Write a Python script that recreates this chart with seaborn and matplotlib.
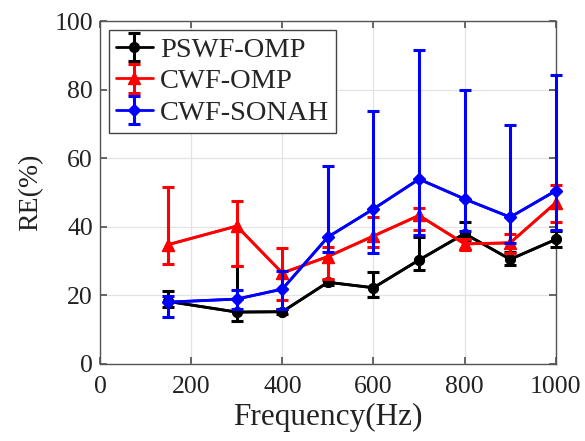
import numpy as np
import pandas as pd
import matplotlib
matplotlib.use("Agg")
import matplotlib.pyplot as plt
import seaborn as sns

freq = [150, 300, 400, 500, 600, 700, 800, 900, 1000]

pswf_mean = [18.2, 15.1, 15.2, 23.8, 22.2, 30.3, 38.0, 30.5, 36.3]
pswf_upper = [21.2, 28.6, 16.0, 24.6, 26.7, 36.9, 41.4, 32.5, 38.8]
pswf_lower = [16.6, 12.6, 14.5, 23.0, 19.4, 27.4, 36.0, 28.9, 34.0]

cwf_mean = [34.8, 40.2, 26.5, 31.3, 37.3, 43.3, 35.0, 35.3, 47.0]
cwf_upper = [51.5, 47.5, 33.9, 34.0, 42.9, 45.4, 36.5, 37.8, 52.2]
cwf_lower = [29.1, 28.6, 18.5, 24.7, 34.2, 39.2, 33.3, 32.3, 41.3]

sonah_mean = [18.0, 18.9, 21.8, 37.0, 45.2, 53.9, 48.1, 42.8, 50.5]
sonah_upper = [19.8, 21.4, 27.1, 57.8, 73.8, 91.5, 79.9, 69.6, 84.4]
sonah_lower = [13.6, 16.0, 16.0, 32.5, 32.2, 37.5, 38.9, 35.2, 39.1]

labels = ["PSWF-OMP", "CWF-OMP", "CWF-SONAH"]
colors = ["black", "red", "blue"]
markers = ["o", "^", "D"]
msizes = [7, 8, 6]

sns.set_theme(style="whitegrid")
plt.rcParams["font.family"] = ["Liberation Serif", "DejaVu Serif"]
plt.rcParams["mathtext.fontset"] = "stix"

fig = plt.figure(figsize=(5.85, 4.41), dpi=100)
ax = fig.add_axes([0.171, 0.175, 0.779, 0.777])
ax.set_facecolor("white")

series = [
    (pswf_mean, pswf_upper, pswf_lower),
    (cwf_mean, cwf_upper, cwf_lower),
    (sonah_mean, sonah_upper, sonah_lower),
]

frames = []
for lab, (m, u, l) in zip(labels, series):
    frames.append(pd.DataFrame({"freq": freq, "RE": m, "method": lab}))
df = pd.concat(frames, ignore_index=True)

handles = []
for i, (lab, (m, u, l)) in enumerate(zip(labels, series)):
    m = np.array(m); u = np.array(u); l = np.array(l)
    sub = df[df["method"] == lab]
    sns.lineplot(data=sub, x="freq", y="RE", ax=ax, color=colors[i],
                 marker=markers[i], markersize=msizes[i], linewidth=2,
                 markeredgecolor=colors[i], legend=False, zorder=3 + i,
                 clip_on=False)
    h = ax.errorbar(freq, m, yerr=[m - l, u - m], fmt=markers[i] + "-",
                    color=colors[i], markersize=msizes[i], linewidth=2,
                    elinewidth=2.2, capsize=4, capthick=2.2, zorder=3 + i,
                    label=lab)
    for art in h.get_children():
        art.set_clip_on(False)
    handles.append(h)

ax.set_xlim(0, 1000)
ax.set_ylim(0, 100)
ax.set_xticks([0, 200, 400, 600, 800, 1000])
ax.set_yticks([0, 20, 40, 60, 80, 100])
ax.grid(True, color="#e3e3e3", linewidth=0.9)
for s in ax.spines.values():
    s.set_visible(True)
    s.set_color("#555555")
    s.set_linewidth(1.0)
ax.tick_params(axis="both", which="both", direction="in", length=5,
               color="#555555", labelsize=18.5, labelcolor="#222222",
               top=True, right=True, left=True, bottom=True)
ax.tick_params(axis="x", pad=9)
ax.tick_params(axis="y", pad=5)
ax.set_xlabel("Frequency(Hz)", fontsize=22.5, color="#222222", labelpad=3)
ax.set_ylabel("RE(%)", fontsize=20, color="#222222", labelpad=8)

leg = ax.legend(handles=handles, labels=labels, loc="upper left",
                fontsize=20.5, frameon=True, fancybox=False,
                borderaxespad=0.3, handlelength=1.3, handletextpad=0.25,
                labelspacing=0.2, borderpad=0.25)
leg.get_frame().set_edgecolor("#444444")
leg.get_frame().set_linewidth(1.0)
leg.get_frame().set_alpha(1)
leg.set_zorder(10)

fig.savefig("out.png", dpi=100)
